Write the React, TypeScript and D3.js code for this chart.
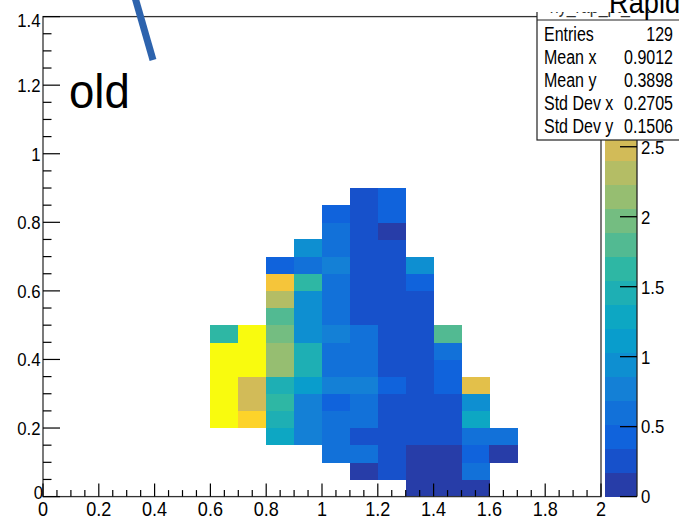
import React from "react";
import * as d3 from "d3";

// ---- data ----
const xBinWidth = 0.1;
const yBinWidth = 0.05;
const colX = [0.6, 0.7, 0.8, 0.9, 1.0, 1.1, 1.2, 1.3, 1.4, 1.5, 1.6];
const colYStart = [0.2, 0.2, 0.15, 0.15, 0.1, 0.05, 0.05, 0.0, 0.0, 0.0, 0.1];
// bin contents of each column, from bottom to top
const col06 = [3.43, 3.38, 3.41, 3.36, 3.40, 1.62];
const col07 = [3.02, 2.52, 2.55, 3.39, 3.35, 3.42];
const col08 = [1.28, 1.47, 1.64, 1.45, 2.15, 2.12, 1.98, 1.79, 2.31, 2.84, 0.44];
const col09 = [0.77, 0.76, 0.79, 1.12, 1.47, 1.44, 0.95, 0.93, 0.96, 1.62, 0.61, 0.94];
const col10 = [0.60, 0.61, 0.62, 0.44, 0.78, 0.59, 0.61, 0.77, 0.60, 0.62, 0.61, 0.78, 0.62, 0.60, 0.43];
const col11 = [0.09, 0.60, 0.26, 0.61, 0.60, 0.77, 0.59, 0.61, 0.60, 0.26, 0.25, 0.27, 0.26, 0.25, 0.26, 0.27, 0.26];
const col12 = [0.26, 0.27, 0.25, 0.26, 0.27, 0.43, 0.26, 0.25, 0.27, 0.26, 0.25, 0.26, 0.27, 0.26, 0.09, 0.43, 0.44];
const col13 = [0.09, 0.08, 0.10, 0.26, 0.25, 0.27, 0.26, 0.25, 0.26, 0.27, 0.26, 0.25, 0.43, 0.94];
const col14 = [0.09, 0.08, 0.10, 0.26, 0.25, 0.27, 0.43, 0.44, 0.60, 1.80];
const col15 = [0.09, 0.61, 0.43, 0.60, 1.29, 0.94, 2.66];
const col16 = [0.09, 0.60];
const columns = [col06, col07, col08, col09, col10, col11, col12, col13, col14, col15, col16];

const zMax = 3.43;
const nContours = 20;

const xTicks = [0, 0.2, 0.4, 0.6, 0.8, 1, 1.2, 1.4, 1.6, 1.8, 2];
const xTickLabels = ["0", "0.2", "0.4", "0.6", "0.8", "1", "1.2", "1.4", "1.6", "1.8", "2"];
const yTicks = [0, 0.2, 0.4, 0.6, 0.8, 1, 1.2, 1.4];
const yTickLabels = ["0", "0.2", "0.4", "0.6", "0.8", "1", "1.2", "1.4"];
const zTicks = [0, 0.5, 1, 1.5, 2, 2.5];
const zTickLabels = ["0", "0.5", "1", "1.5", "2", "2.5"];

const statsLabels = ["Entries", "Mean x", "Mean y", "Std Dev x", "Std Dev y"];
const statsValues = ["129", "0.9012", "0.3898", "0.2705", "0.1506"];
const statsName = "hy_rap_pt_sel";
const titleText = "Rapidity";
const noteText = "old";

// ROOT kBird palette
const birdStops = [0.0, 0.125, 0.25, 0.375, 0.5, 0.625, 0.75, 0.875, 1.0];
const birdR = [0.2082, 0.0592, 0.078, 0.0232, 0.1802, 0.5301, 0.8186, 0.9956, 0.9764];
const birdG = [0.1664, 0.3599, 0.5041, 0.6419, 0.7178, 0.7492, 0.7328, 0.7862, 0.9832];
const birdB = [0.5293, 0.8684, 0.8385, 0.7914, 0.6425, 0.4662, 0.3499, 0.1968, 0.0539];

const W = 679;
const H = 519;
const FX0 = 43, FX1 = 601, FY0 = 496.6, FY1 = 16.6;
const PAL0 = 605, PAL1 = 637;
const FONT = "'Liberation Sans', Arial, Helvetica, sans-serif";

function T({ x, y, s, size, sx = 0.88, anchor = "start", fill = "#000", dy = 0 }: any) {
  return (
    <text
      transform={`translate(${x},${y}) scale(${sx},1)`}
      textAnchor={anchor}
      fontSize={size}
      fontFamily={FONT}
      fill={fill}
      dy={dy}
    >
      {s}
    </text>
  );
}

export default function App() {
  const x = d3.scaleLinear().domain([0, 2]).range([FX0, FX1]);
  const y = d3.scaleLinear().domain([0, 1.4]).range([FY0, FY1]);
  const z = d3.scaleLinear().domain([0, zMax]).range([FY0, FY1]);

  const bird = d3
    .scaleLinear<string>()
    .domain(birdStops)
    .range(birdStops.map((_, i) => d3.rgb(birdR[i] * 255, birdG[i] * 255, birdB[i] * 255).toString()))
    .interpolate(d3.interpolateRgb);
  const bandColors = d3.range(nContours).map((i) => bird(Math.floor(((i + 0.99) * 255) / nContours) / 254));
  const color = d3.scaleQuantize<string>().domain([0, zMax]).range(bandColors);

  const cells: any[] = [];
  columns.forEach((vals, ci) => {
    vals.forEach((v, k) => {
      const x0 = colX[ci];
      const y0 = colYStart[ci] + k * yBinWidth;
      cells.push({ x0, y0, v });
    });
  });

  const xMinor = d3.range(0, 2.0001, 0.05);
  const yMinor = d3.range(0, 1.4001, 0.05);
  const bandW = zMax / nContours;

  return (
    <svg width={W} height={H} style={{ position: "absolute", left: 0, top: 0, background: "#fff" }}>
      <rect x={0} y={0} width={W} height={H} fill="#fff" />
      {/* cells */}
      <g shapeRendering="crispEdges">
        {cells.map((c, i) => (
          <rect
            key={i}
            x={x(c.x0)}
            y={y(c.y0 + yBinWidth)}
            width={x(c.x0 + xBinWidth) - x(c.x0) + 0.3}
            height={y(c.y0) - y(c.y0 + yBinWidth) + 0.3}
            fill={color(c.v)}
          />
        ))}
      </g>
      {/* frame */}
      <rect x={FX0} y={FY1} width={FX1 - FX0} height={FY0 - FY1} fill="none" stroke="#333" strokeWidth={1.3} />
      {/* y ticks */}
      {yMinor.map((t, i) => {
        const major = Math.abs(t / 0.2 - Math.round(t / 0.2)) < 1e-6;
        return <line key={i} x1={FX0} x2={FX0 + (major ? 17 : 8.5)} y1={y(t)} y2={y(t)} stroke="#000" strokeWidth={1.2} />;
      })}
      {/* x ticks */}
      {xMinor.map((t, i) => {
        const major = Math.abs(t / 0.2 - Math.round(t / 0.2)) < 1e-6;
        return <line key={i} x1={x(t)} x2={x(t)} y1={FY0} y2={FY0 - (major ? 13 : 6.5)} stroke="#000" strokeWidth={1.2} />;
      })}
      {/* y tick labels */}
      {yTicks.map((t, i) => {
        if (i === 0) return <T key={i} x={43} y={499} s={yTickLabels[i]} size={19} anchor="end" />;
        const yy = i === yTicks.length - 1 ? 20 : y(t);
        return <T key={i} x={40.5} y={yy} dy="0.36em" s={yTickLabels[i]} size={19} anchor="end" />;
      })}
      {/* x tick labels */}
      {xTicks.map((t, i) => (
        <T key={i} x={x(t)} y={516} s={xTickLabels[i]} size={20.5} anchor="middle" />
      ))}
      {/* palette */}
      <g shapeRendering="crispEdges">
        {bandColors.map((c, i) => (
          <rect key={i} x={PAL0} y={z((i + 1) * bandW)} width={PAL1 - PAL0} height={z(i * bandW) - z((i + 1) * bandW) + 0.5} fill={c} />
        ))}
      </g>
      <line x1={PAL1} x2={PAL1} y1={FY1} y2={FY0} stroke="#222" strokeWidth={1.3} />
      {zTicks.map((t, i) => (
        <g key={i}>
          <line x1={PAL1} x2={PAL1 - 17} y1={z(t)} y2={z(t)} stroke="#000" strokeWidth={1.3} />
          <T x={641} y={z(t)} dy="0.36em" s={zTickLabels[i]} size={19} />
        </g>
      ))}
      {/* stats box */}
      <rect x={537} y={-10} width={200} height={150} fill="#fff" stroke="#222" strokeWidth={1.2} />
      <T x={600} y={12.5} s={statsName} size={20} anchor="middle" sx={0.8} fill="#333" />
      <line x1={537} x2={700} y1={20} y2={20} stroke="#222" strokeWidth={1} />
      {statsLabels.map((l, i) => (
        <g key={i}>
          <T x={544} y={40.5 + i * 23.2} s={l} size={20} sx={0.8} />
          <T x={673} y={40.5 + i * 23.2} s={statsValues[i]} size={20} sx={0.8} anchor="end" />
        </g>
      ))}
      {/* title box */}
      <rect x={520} y={0} width={170} height={12} fill="#fff" />
      <T x={609} y={12.5} s={titleText} size={32} sx={0.85} />
      {/* annotation */}
      <line x1={134} y1={-6} x2={153} y2={60} stroke="#2d63ad" strokeWidth={7} />
      <T x={69} y={108} s={noteText} size={48} sx={0.95} />
    </svg>
  );
}
